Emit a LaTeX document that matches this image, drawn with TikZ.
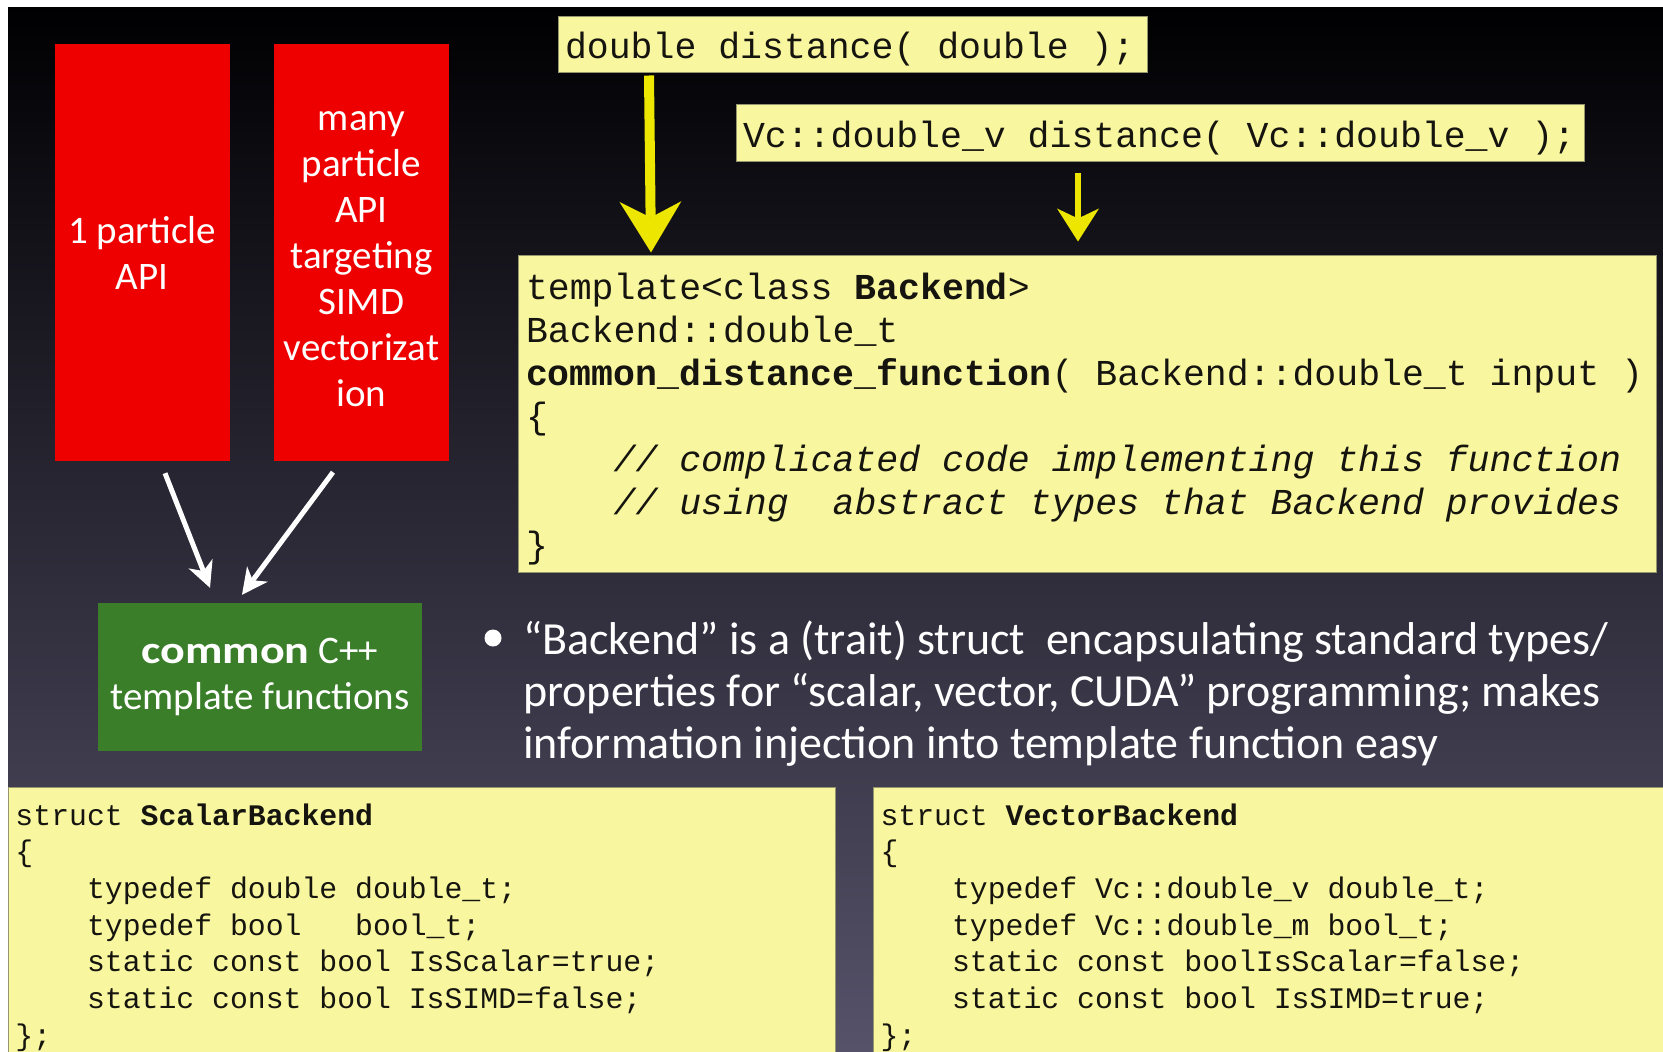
\documentclass[tikz,border=0pt]{standalone}
\usepackage{fontspec}
\setmainfont{Carlito}
\setmonofont{Liberation Mono}
\usepackage{graphicx}
\usepackage{tikz}
\usetikzlibrary{arrows.meta,calc}

\definecolor{slidetop}{RGB}{0,0,2}
\definecolor{slidemid}{RGB}{36,32,60}
\definecolor{slidebot}{RGB}{86,82,106}
\definecolor{codeyellow}{RGB}{248,247,160}
\definecolor{codeedge}{RGB}{150,150,110}
\definecolor{codeink}{RGB}{22,20,14}
\definecolor{apired}{RGB}{238,0,0}
\definecolor{cppgreen}{RGB}{58,126,42}
\definecolor{chalkyellow}{RGB}{236,230,0}

% monospaced code with full-width spaces
\newlength\codesp
\DeclareRobustCommand\codesize[2]{\ttfamily\fontsize{#1}{#2}\selectfont
  \setlength\codesp{#1pt}\setlength\codesp{0.6\codesp}}
\newcommand\codegap{\spaceskip=\codesp\xspaceskip=\codesp\relax}

\tikzset{
  apibox/.style={fill=apired,text=white,minimum width=175pt,minimum height=417pt,
    inner sep=0pt,align=center,font=\fontsize{39}{46}\selectfont},
  codebox/.style={fill=codeyellow,draw=codeedge,line width=1pt,text=codeink,
    align=left,inner ysep=0pt,font=\codesize{36.5}{43}},
  structbox/.style={codebox,anchor=north west,inner xsep=7pt,minimum height=280pt,
    font=\codesize{29.8}{36.7}},
  chalk/.style={draw=chalkyellow,line width=10pt,
    -{Stealth[length=51pt,width=62pt,inset=16pt,line width=0pt]}},
  pointer/.style={draw=white,line width=5pt,
    -{Stealth[length=26pt,width=26pt,inset=8pt,line width=0pt]}}
}

\begin{document}
\frenchspacing
\begin{tikzpicture}[x=1pt,y=-1pt]
  % Slide background
  \useasboundingbox (0,0) rectangle (1663,1052);
  \fill[white] (0,0) rectangle (1663,1052);
  \shade[top color=slidetop,middle color=slidemid,bottom color=slidebot]
    (8,7) rectangle (1663,1052);

  % API boxes
  \node[apibox] (red1) at (142,252.5) {1 particle\\API};
  \node[apibox] (red2) at (361.5,252.5)
    {\rule{0pt}{33pt}many\\particle\\API\\targeting\\SIMD\\vectorizat\\ion};

  \node[fill=cppgreen,text=white,minimum width=324pt,minimum height=148pt,
    align=center,inner sep=0pt,font=\fontsize{39}{46}\selectfont] (cpp) at (260,677)
    {\scalebox{1.18}[1]{\textbf{common}} C++\\template functions};

  % Signatures
  \node[codebox,inner xsep=7pt,text width=575pt,minimum height=56pt,
    text height=36pt,text depth=8pt] (dtop)
    at (852.5,44) {\codegap double distance( double );};
  \node[codebox,inner xsep=7pt,text width=834pt,minimum height=57pt,
    text height=37.6pt,text depth=8pt] (vtop)
    at (1160,132.5) {\codegap Vc::double\_v distance( Vc::double\_v );};

  \node[codebox,inner xsep=8pt,text width=1122pt,minimum height=317pt,
    text height=30pt,text depth=259pt] (tmpl)
    at (1087,413.5)
    {\codegap template<class \textbf{Backend}>\\
     Backend::double\_t\\
     \textbf{common\_distance\_function}( Backend::double\_t input )\\
     \{\\
     ~~~~\textit{// complicated code implementing this function}\\
     ~~~~\textit{// using~ abstract types that Backend provides}\\
     \}};

  % Bullet
  \node[circle,fill=white,inner sep=0pt,minimum size=17pt] (dot) at (493,638) {};
  \node[anchor=west,text=white,align=left,inner sep=0pt,
    font=\fontsize{46}{52}\selectfont] (trait) at (523,694)
    {“Backend” is a (trait) struct~ encapsulating standard types/\\
     properties for “scalar, vector, CUDA” programming; makes\\
     information injection into template function easy};

  % Backends
  \node[structbox,text width=813pt] (scalar) at (8,787)
    {\codegap struct \textbf{ScalarBackend}\\
     \{\\
     ~~~~typedef double double\_t;\\
     ~~~~typedef bool~~~bool\_t;\\
     ~~~~static const bool IsScalar=true;\\
     ~~~~static const bool IsSIMD=false;\\
     \};};
  \node[structbox,text width=783pt] (vector) at (873,787)
    {\codegap struct \textbf{VectorBackend}\\
     \{\\
     ~~~~typedef Vc::double\_v double\_t;\\
     ~~~~typedef Vc::double\_m bool\_t;\\
     ~~~~static const boolIsScalar=false;\\
     ~~~~static const bool IsSIMD=true;\\
     \};};

  % Arrows
  \draw[chalk] ($(dtop.south)+(-203.5,3)$) -- ($(tmpl.north)+(-436,-2)$);
  \draw[chalk,line width=6pt,-{Stealth[length=33pt,width=42pt,inset=10pt,line width=0pt]}]
    ($(vtop.south)+(-82,11)$) -- ($(tmpl.north)+(-9,-13)$);
  \draw[pointer] ($(red1.south)+(23,12)$) -- ($(cpp.north)+(-50,-15)$);
  \draw[pointer] ($(red2.south)+(-28.5,11)$) -- ($(cpp.north)+(-18,-8)$);
\end{tikzpicture}
\end{document}
